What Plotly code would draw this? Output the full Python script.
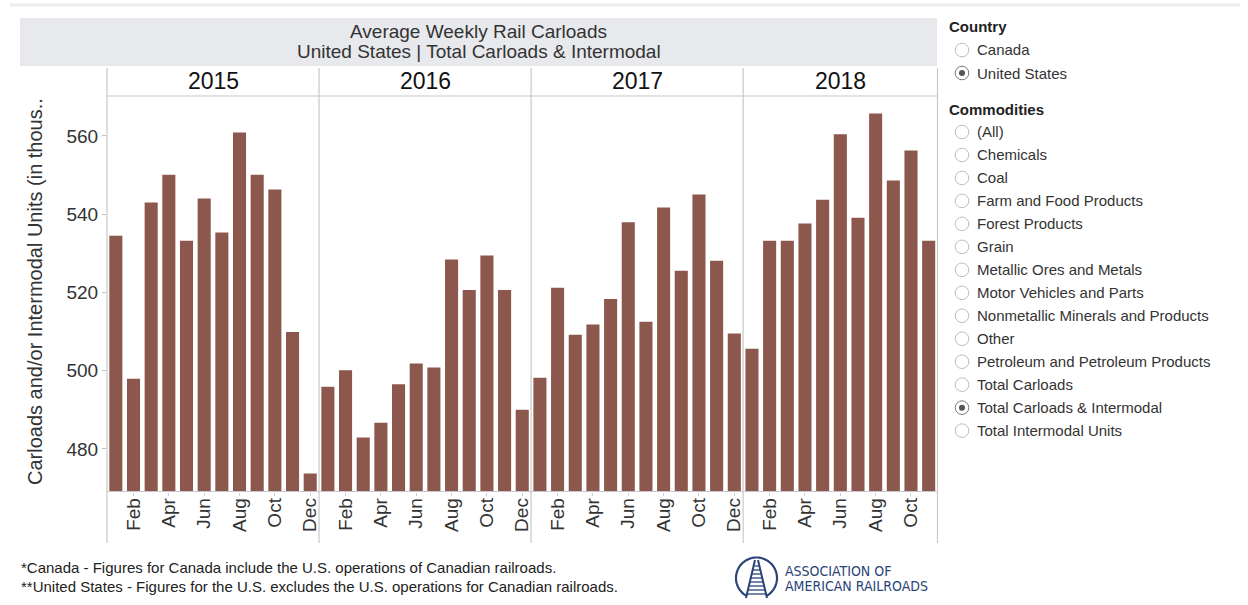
import numpy as np
import plotly.graph_objects as go

# ---------------- data ----------------
months = ["Jan", "Feb", "Mar", "Apr", "May", "Jun", "Jul", "Aug", "Sep", "Oct", "Nov", "Dec"]
years = ["2015", "2016", "2017", "2018"]
v2015 = [534.5, 497.9, 543.0, 550.1, 533.2, 544.0, 535.3, 560.9, 550.1, 546.3, 509.9, 473.7]
v2016 = [495.9, 500.1, 482.9, 486.7, 496.5, 501.8, 500.8, 528.4, 520.6, 529.4, 520.6, 490.0]
v2017 = [498.2, 521.2, 509.2, 511.8, 518.3, 537.9, 512.5, 541.7, 525.5, 545.0, 528.1, 509.5]
v2018 = [505.6, 533.2, 533.2, 537.6, 543.7, 560.4, 539.1, 565.7, 548.6, 556.3, 533.2]
series = [v2015, v2016, v2017, v2018]
tick_months = ["Feb", "Apr", "Jun", "Aug", "Oct", "Dec"]
y_ticks = [480, 500, 520, 540, 560]
y_range = [469.1, 570.2]

title_lines = ["Average Weekly Rail Carloads", "United States | Total Carloads & Intermodal"]
y_title = "Carloads and/or Intermodal Units (in thous.."
country_opts = ["Canada", "United States"]
country_sel = "United States"
commodity_opts = ["(All)", "Chemicals", "Coal", "Farm and Food Products", "Forest Products", "Grain",
                  "Metallic Ores and Metals", "Motor Vehicles and Parts",
                  "Nonmetallic Minerals and Products", "Other", "Petroleum and Petroleum Products",
                  "Total Carloads", "Total Carloads & Intermodal", "Total Intermodal Units"]
commodity_sel = "Total Carloads & Intermodal"
footnotes = ["*Canada - Figures for Canada include the U.S. operations of Canadian railroads.",
             "**United States - Figures for the U.S. excludes the U.S. operations for Canadian railroads."]
logo_lines = ["ASSOCIATION OF", "AMERICAN RAILROADS"]

# ---------------- layout helpers (paper == pixels, margins 0) ----------------
W, H = 1248, 605
def X(px): return px / W
def Y(py): return 1 - py / H

FONT = "Liberation Sans, Arial, sans-serif"
BAR = "#8c574c"
LINE = "#c8c8c8"
TXT = "#333333"

left, right = 107, 937.5
plot_top, plot_bot = 96, 491.5
counts = [len(s) for s in series]
total = sum(counts)
edges = [left + (right - left) * sum(counts[:i]) / total for i in range(len(counts) + 1)]

fig = go.Figure()
layout_axes = {}
for i, (yr, vals) in enumerate(zip(years, series)):
    n = len(vals)
    xa = "x" if i == 0 else f"x{i+1}"
    fig.add_trace(go.Bar(x=months[:n], y=vals, xaxis=xa, yaxis="y",
                         marker=dict(color=BAR, line=dict(width=0)),
                         showlegend=False, hoverinfo="x+y"))
    key = "xaxis" if i == 0 else f"xaxis{i+1}"
    layout_axes[key] = dict(
        domain=[X(edges[i]), X(edges[i + 1])], anchor="y",
        type="category", categoryorder="array", categoryarray=months[:n],
        range=[-0.5, n - 0.5],
        tickmode="array", tickvals=[m for m in tick_months if m in months[:n]],
        tickangle=-90, tickfont=dict(family=FONT, size=19, color=TXT),
        ticks="outside", ticklen=3, tickcolor="#d0d0d0", ticklabelstandoff=-5,
        showline=False, showgrid=False, zeroline=False, automargin=False,
        fixedrange=True,
    )

fig.update_layout(
    **layout_axes,
    yaxis=dict(domain=[Y(plot_bot), Y(plot_top)], anchor="x", range=y_range,
               tickmode="array", tickvals=y_ticks,
               tickfont=dict(family=FONT, size=19, color=TXT),
               ticks="outside", ticklen=4, tickcolor="#c0c0c0",
               showgrid=False, zeroline=False, showline=False, automargin=False,
               fixedrange=True),
    width=W, height=H, margin=dict(l=0, r=0, t=0, b=0, pad=0),
    paper_bgcolor="white", plot_bgcolor="rgba(0,0,0,0)",
    bargap=0.26, font=dict(family=FONT, color=TXT),
)

shapes = []
annots = []

# top thin rule
shapes.append(dict(type="line", xref="paper", yref="paper", x0=X(10), x1=X(1240), y0=Y(5), y1=Y(5),
                   line=dict(color="#ececec", width=3)))
# title band
shapes.append(dict(type="rect", xref="paper", yref="paper", x0=X(20), x1=X(937), y0=Y(66), y1=Y(18),
                   fillcolor="#e8e9ec", line=dict(width=0), layer="below"))
annots.append(dict(text=title_lines[0], x=X(478.5), y=Y(31), showarrow=False,
                   font=dict(size=19, color="#333"), xanchor="center", yanchor="middle"))
annots.append(dict(text=title_lines[1], x=X(478.5), y=Y(52), showarrow=False,
                   font=dict(size=19, color="#333"), xanchor="center", yanchor="middle"))

# panel frame lines
for e in edges:
    shapes.append(dict(type="line", xref="paper", yref="paper", x0=X(e), x1=X(e), y0=Y(68), y1=Y(543),
                       line=dict(color=LINE, width=1.2)))
shapes.append(dict(type="line", xref="paper", yref="paper", x0=X(left), x1=X(right), y0=Y(plot_top), y1=Y(plot_top),
                   line=dict(color=LINE, width=1.2)))
shapes.append(dict(type="line", xref="paper", yref="paper", x0=X(left), x1=X(right), y0=Y(plot_bot), y1=Y(plot_bot),
                   line=dict(color=LINE, width=1.2)))
# year headers
for i, yr in enumerate(years):
    annots.append(dict(text=yr, x=X((edges[i] + edges[i + 1]) / 2), y=Y(81), showarrow=False,
                       font=dict(size=23, color="#111"), xanchor="center", yanchor="middle"))
# y title
annots.append(dict(text=y_title, x=X(35), y=Y(292), textangle=-90, showarrow=False,
                   font=dict(size=20, color=TXT), xanchor="center", yanchor="middle"))

# ---- filter panel ----
def radio(cy, label, selected):
    cx, r = 962, 6.8
    shapes.append(dict(type="circle", xref="paper", yref="paper",
                       x0=X(cx - r), x1=X(cx + r), y0=Y(cy + r), y1=Y(cy - r),
                       fillcolor="white", line=dict(color="#777" if selected else "#bdbdbd", width=1)))
    if selected:
        rr = 3
        shapes.append(dict(type="circle", xref="paper", yref="paper",
                           x0=X(cx - rr), x1=X(cx + rr), y0=Y(cy + rr), y1=Y(cy - rr),
                           fillcolor="#555", line=dict(width=0)))
    annots.append(dict(text=label, x=X(975), y=Y(cy), showarrow=False, xanchor="left", yanchor="middle",
                       font=dict(size=15, color="#333")))

annots.append(dict(text="<b>Country</b>", x=X(947), y=Y(26), showarrow=False, xanchor="left", yanchor="middle",
                   font=dict(size=15, color="#222")))
for k, c in enumerate(country_opts):
    radio(50 + 23 * k, c, c == country_sel)
annots.append(dict(text="<b>Commodities</b>", x=X(947), y=Y(109), showarrow=False, xanchor="left",
                   yanchor="middle", font=dict(size=15, color="#222")))
for k, c in enumerate(commodity_opts):
    radio(132 + 22.97 * k, c, c == commodity_sel)

# ---- footnotes ----
for k, t in enumerate(footnotes):
    annots.append(dict(text=t, x=X(19), y=Y(567 + 19 * k), showarrow=False, xanchor="left", yanchor="middle",
                       font=dict(size=15, color="#222")))

# ---- logo ----
NAVY = "#2a4478"
cx, cy, r = 756.5, 578, 20.5
ang = np.linspace(np.deg2rad(-62), np.deg2rad(242), 60)
pts = [(X(cx + r * np.cos(a)), Y(cy - r * np.sin(a))) for a in ang]
path = "M " + " L ".join(f"{px:.5f},{py:.5f}" for px, py in pts)
shapes.append(dict(type="path", xref="paper", yref="paper", path=path, line=dict(color=NAVY, width=2.2)))
# rails
shapes.append(dict(type="line", xref="paper", yref="paper", x0=X(746), y0=Y(598), x1=X(755), y1=Y(560),
                   line=dict(color=NAVY, width=2)))
shapes.append(dict(type="line", xref="paper", yref="paper", x0=X(767), y0=Y(598), x1=X(758), y1=Y(560),
                   line=dict(color=NAVY, width=2)))
for ty in np.arange(566, 597, 4):
    f = (ty - 560) / 38.0
    hw = 2 + 9.5 * f
    shapes.append(dict(type="line", xref="paper", yref="paper", x0=X(756.5 - hw), x1=X(756.5 + hw),
                       y0=Y(ty), y1=Y(ty), line=dict(color=NAVY, width=1.3)))
LOGOFONT = "Liberation Sans Narrow, DejaVu Sans Condensed, Roboto Condensed, Arial Narrow, sans-serif"
annots.append(dict(text=logo_lines[0], x=X(783), y=Y(570.5), showarrow=False, xanchor="left", yanchor="middle",
                   font=dict(size=14, color=NAVY, family=LOGOFONT)))
annots.append(dict(text=logo_lines[1], x=X(783), y=Y(586), showarrow=False, xanchor="left", yanchor="middle",
                   font=dict(size=14, color=NAVY, family=LOGOFONT)))

for a in annots:
    a.setdefault("xref", "paper")
    a.setdefault("yref", "paper")
fig.update_layout(shapes=shapes, annotations=annots)

fig.write_html("out.html", config={"displayModeBar": False},
               post_script="document.body.style.margin='0';document.body.style.overflow='hidden';")
